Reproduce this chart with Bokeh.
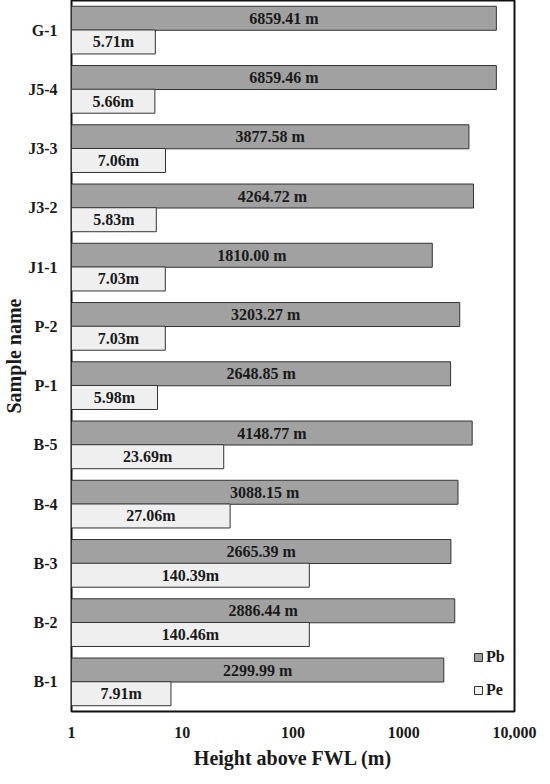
from bokeh.plotting import figure
from bokeh.models import ColumnDataSource, FixedTicker, Legend, LegendItem
from bokeh.transform import dodge
from bokeh.core.properties import value
from bokeh.embed import file_html
from bokeh.resources import INLINE
import math

samples = ["G-1", "J5-4", "J3-3", "J3-2", "J1-1", "P-2", "P-1", "B-5", "B-4", "B-3", "B-2", "B-1"]
pb = [6859.41, 6859.46, 3877.58, 4264.72, 1810.00, 3203.27, 2648.85, 4148.77, 3088.15, 2665.39, 2886.44, 2299.99]
pe = [5.71, 5.66, 7.06, 5.83, 7.03, 7.03, 5.98, 23.69, 27.06, 140.39, 140.46, 7.91]
x_ticks = [1, 10, 100, 1000, 10000]
x_tick_labels = ["1", "10", "100", "1000", "10,000"]

FONT = "Liberation Serif"
factors = list(reversed(samples))

src = ColumnDataSource(dict(
    sample=samples,
    pb=pb,
    pe=pe,
    left=[1] * len(samples),
    pb_mid=[math.sqrt(v) for v in pb],
    pe_mid=[math.sqrt(v) for v in pe],
    pb_lab=[f"{v:.2f} m" for v in pb],
    pe_lab=[f"{v:.2f}m" for v in pe],
))

p = figure(frame_width=443, frame_height=711, y_range=factors, x_range=(1, 10000),
           x_axis_type="log", output_backend="svg", toolbar_location=None,
           min_border_left=68, min_border_top=0, min_border_right=23, min_border_bottom=60)

r_pb = p.hbar(y=dodge("sample", 0.2, range=p.y_range), left="left", right="pb", height=0.405,
              source=src, fill_color="#a1a1a1", line_color="#333333", line_width=1)
r_pe = p.hbar(y=dodge("sample", -0.2, range=p.y_range), left="left", right="pe", height=0.405,
              source=src, fill_color="#efefef", line_color="#333333", line_width=1)

p.text(x="pb_mid", y=dodge("sample", 0.2, range=p.y_range), text="pb_lab", source=src,
       text_align="center", text_baseline="middle", text_font=value(FONT),
       text_font_style="bold", text_font_size="16px", text_color="#1a1a1a")
p.text(x="pe_mid", y=dodge("sample", -0.2, range=p.y_range), text="pe_lab", source=src,
       text_align="center", text_baseline="middle", text_font=value(FONT),
       text_font_style="bold", text_font_size="16px", text_color="#1a1a1a")

p.y_range.range_padding = 0
p.grid.visible = False
p.outline_line_color = "#111111"
p.outline_line_width = 2
p.background_fill_color = "white"

p.xaxis.ticker = FixedTicker(ticks=x_ticks)
p.xaxis.major_label_overrides = {t: l for t, l in zip(x_ticks, x_tick_labels)}

for ax in (p.xaxis, p.yaxis):
    ax.axis_line_color = None
    ax.major_tick_line_color = None
    ax.minor_tick_line_color = None
    ax.major_tick_out = 0
    ax.major_tick_in = 0
    ax.minor_tick_out = 0
    ax.major_label_text_font = FONT
    ax.major_label_text_font_style = "bold"
    ax.major_label_text_font_size = "16px"
    ax.major_label_text_color = "#1a1a1a"
    ax.axis_label_text_font = FONT
    ax.axis_label_text_font_style = "bold"
    ax.axis_label_text_font_size = "20px"
    ax.axis_label_text_color = "#1a1a1a"

p.xaxis.axis_label = "Height above FWL (m)"
p.yaxis.axis_label = "Sample name"
p.xaxis.major_label_standoff = 15
p.xaxis.axis_label_standoff = 6
p.yaxis.major_label_standoff = 14
p.yaxis.axis_label_standoff = 0

legend = Legend(items=[LegendItem(label="Pb", renderers=[r_pb]),
                       LegendItem(label="Pe", renderers=[r_pe])],
                location=(402, 12), orientation="vertical",
                glyph_width=10, glyph_height=10, label_standoff=3,
                label_text_font=FONT, label_text_font_style="bold",
                label_text_font_size="16px", label_text_color="#1a1a1a",
                spacing=15, padding=0, margin=0,
                border_line_color=None, background_fill_alpha=0)
p.add_layout(legend, "center")

open("out.html", "w").write(file_html(p, INLINE))
